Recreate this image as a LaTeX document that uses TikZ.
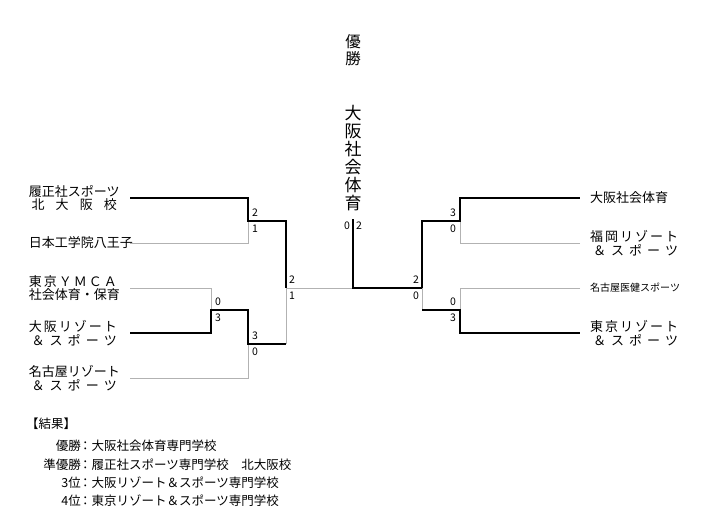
\documentclass[tikz,border=0pt]{standalone}
\usepackage{fontspec}
\setmainfont{Noto Sans CJK JP}
\newcommand{\spr}[1]{\makebox[88pt][s]{#1}}
\begin{document}
\begin{tikzpicture}[x=1pt,y=-1pt,
 win/.style={line width=1.6pt},
 lose/.style={line width=0.6pt,gray!60},
 sc/.style={font=\fontsize{10.5}{11}\selectfont,inner sep=0pt},
 tl/.style={font=\fontsize{13}{13.5}\selectfont,anchor=east,inner sep=0pt,align=right},
 tr/.style={font=\fontsize{13}{13.5}\selectfont,anchor=west,inner sep=0pt,align=left},
 res/.style={font=\fontsize{12.5}{13}\selectfont,inner sep=0pt}]
\useasboundingbox (0,0) rectangle (710,523);
% left names
\node[tl] (L1) at (117,198) {\spr{履正社スポーツ}\\\spr{\ 北\hfill 大\hfill 阪\hfill 校}};
\node[tl] (L2) at (117,243) {\spr{日本工学院八王子}};
\node[tl] (L3) at (117,288) {\spr{東\hfill 京\hfill Ｙ\hfill Ｍ\hfill Ｃ\hfill Ａ}\\\spr{社会体育・保育}};
\node[tl] (L4) at (117,333) {\spr{大\hfill 阪\hfill リ\hfill ゾ\hfill ー\hfill ト}\\\spr{\ ＆\hfill ス\hfill ポ\hfill ー\hfill ツ}};
\node[tl] (L5) at (117,378) {\spr{名古屋リゾート}\\\spr{\ ＆\hfill ス\hfill ポ\hfill ー\hfill ツ}};
% right names
\node[tr] (R1) at (590,198) {\spr{大阪社会体育}};
\node[tr] (R2) at (590,243) {\spr{福\hfill 岡\hfill リ\hfill ゾ\hfill ー\hfill ト}\\\spr{\ ＆\hfill ス\hfill ポ\hfill ー\hfill ツ}};
\node[tr,font=\fontsize{10}{11}\selectfont] (R3) at (590,288) {名古屋医健スポーツ};
\node[tr] (R4) at (590,333) {\spr{東\hfill 京\hfill リ\hfill ゾ\hfill ー\hfill ト}\\\spr{\ ＆\hfill ス\hfill ポ\hfill ー\hfill ツ}};
% coordinates
\coordinate (a1) at (130,198); \coordinate (a2) at (130,243);
\coordinate (a3) at (130,288); \coordinate (a4) at (130,333); \coordinate (a5) at (130,378);
\coordinate (b1) at (580,198); \coordinate (b2) at (580,243);
\coordinate (b3) at (580,288); \coordinate (b4) at (580,333);
% left bracket
\draw[lose] (a2) -| (248,221);
\draw[lose] (a3) -| (211,310);
\draw[lose] (a5) -| (248,344);
\draw[lose] (286,344) -- (286,288) -- (353,288);
\draw[win] (a1) -| (248,221) -- (286,221) -- (286,288);
\draw[win] (a4) -| (211,310) -- (248,310) -- (248,344) -- (286,344);
% center
\draw[win] (353,219) -- (353,288) -- (422,288);
% right bracket
\draw[lose] (422,288) -- (422,310);
\draw[lose] (b2) -| (460,221);
\draw[lose] (b3) -| (460,310);
\draw[win] (422,288) -- (422,221) -- (460,221) |- (b1);
\draw[win] (422,310) -- (460,310) |- (b4);
% scores
\node[sc] (s1) at (255,213) {2}; \node[sc] (s2) at (255,229) {1};
\node[sc] (s3) at (218,302) {0}; \node[sc] (s4) at (218,318) {3};
\node[sc] (s5) at (255,336) {3}; \node[sc] (s6) at (255,352) {0};
\node[sc] (s7) at (292,280) {2}; \node[sc] (s8) at (292,296) {1};
\node[sc] (s9) at (347,226) {0}; \node[sc] (s10) at (359,226) {2};
\node[sc] (s11) at (416,280) {2}; \node[sc] (s12) at (416,296) {0};
\node[sc] (s13) at (453,213) {3}; \node[sc] (s14) at (453,229) {0};
\node[sc] (s15) at (453,302) {0}; \node[sc] (s16) at (453,318) {3};
% champion
\node[font=\fontsize{15.5}{16.5}\selectfont,align=center,inner sep=0pt] (ch) at (353,50) {優\\勝};
\node[font=\fontsize{17}{18}\selectfont,align=center,inner sep=0pt] (cn) at (353,158) {大\\阪\\社\\会\\体\\育};
% results
\node[res,anchor=west] (r0) at (26,424) {【結果】};
\node[res,anchor=east] (r1l) at (81,446) {優勝};
\node[res,anchor=west] (r1) at (79,446) {：大阪社会体育専門学校};
\node[res,anchor=east] (r2l) at (81,465) {準優勝};
\node[res,anchor=west] (r2) at (79,465) {：履正社スポーツ専門学校\quad 北大阪校};
\node[res,anchor=east] (r3l) at (81,483) {3位};
\node[res,anchor=west] (r3) at (79,483) {：大阪リゾート＆スポーツ専門学校};
\node[res,anchor=east] (r4l) at (81,501) {4位};
\node[res,anchor=west] (r4) at (79,501) {：東京リゾート＆スポーツ専門学校};
\end{tikzpicture}
\end{document}
